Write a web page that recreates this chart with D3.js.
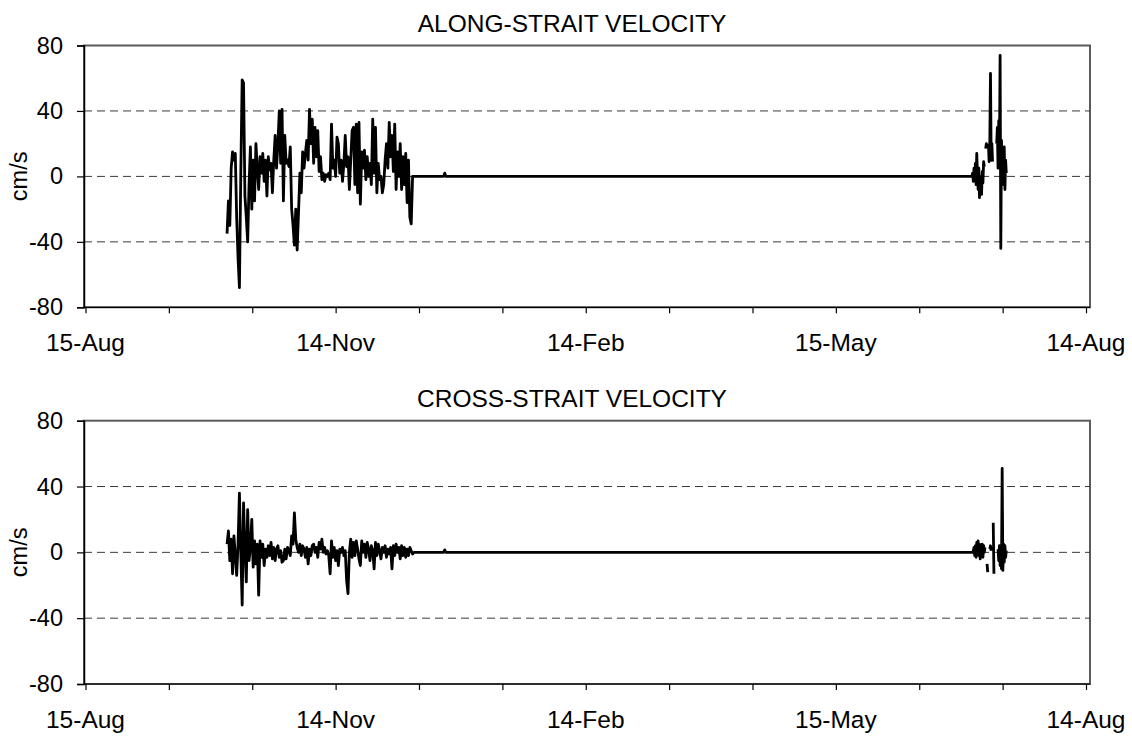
<!DOCTYPE html>
<html><head><meta charset="utf-8">
<script src="https://cdn.jsdelivr.net/npm/d3@7"></script>
<style>
body{margin:0;background:#fff}
svg{display:block}
text{font-family:"Liberation Sans",Arial,sans-serif;fill:#000}
</style>
</head><body>
<svg id="c" width="1132" height="736"></svg>
<script>
// ---------- data (days since 15-Aug) ----------
const xTickDays = [0, 30.33, 60.67, 91, 121.33, 151.67, 182, 212.33, 242.67, 273, 303.33, 333.67, 364];
const xLabelDays = [0, 91, 182, 273, 364];
const xLabels = ["15-Aug", "14-Nov", "14-Feb", "15-May", "14-Aug"];
const yTicks = [80, 40, 0, -40, -80];
const gridValues = [40, 0, -40];
const titles = ["ALONG-STRAIT VELOCITY", "CROSS-STRAIT VELOCITY"];

const fallStart = 51.5, fallStep = 0.5;
const alongFall = [
 -35,-15,-30,5,15,10,14,-25,-50,-68,2,59,57,-12,-25,-40,-5,18,-20,10,
 -15,20,5,-8,12,2,14,-3,10,-12,12,4,8,-10,10,25,5,20,40,8,
 41,-15,25,8,10,6,18,-20,-30,-42,-20,-45,-22,2,-10,15,5,14,22,10,
 41,20,35,8,30,12,28,3,12,-2,2,-3,1,0,2,-2,32,5,10,0,
 24,20,2,10,-3,8,25,6,12,-8,10,28,30,-5,32,-10,33,-17,15,5,
 16,-2,12,0,8,-5,35,2,30,-10,8,-2,0,-10,-5,10,20,5,33,12,
 25,3,32,-8,15,0,20,-8,12,-5,14,-16,10,-25,-29,0
];
const crossFall = [
 5,13,-5,8,-13,10,-2,-14,5,36,0,-32,30,2,-18,26,-5,3,20,-9,
 7,-7,5,-26,7,-3,5,-8,2,-3,4,-2,6,-4,3,-5,2,4,-3,1,
 -6,-5,2,-4,3,1,-2,10,5,24,8,3,0,5,-2,4,2,-3,3,-7,
 2,-2,4,5,0,3,-3,6,2,8,0,3,-1,1,-2,-13,7,-3,3,-5,
 1,-8,2,0,3,-2,1,-17,-25,0,8,-3,6,-2,7,2,-4,-8,7,0,
 5,-3,6,2,-5,4,1,-10,6,-2,5,1,-4,3,0,4,-3,2,-1,3,
 -10,4,-2,5,0,3,-4,4,-2,3,-3,2,-2,3,1,-1,0
];

const quietDays = [119.5, 130.3, 130.7, 131.1, 322.5];
const alongQuiet = [0, 0, 2, 0, 0];
const crossQuiet = [0, 0, 1.5, 0, 0];

const summerStart = 322.5, summerStep = 0.25;
const alongSummer = [
 0,2,-3,5,-2,8,-5,14,2,-8,5,-13,0,-6,-11,3,-4,9,6,null,
 17,20,18,null,20,9,21,63,10,20,9,null,null,null,null,null,
 20,30,5,34,10,74,-44,22,5,15,-5,18,-8,10,2
];
const crossSummer = [
 0,0,1,3,-2,4,-3,6,2,7,-2,5,-4,3,0,5,-3,4,0,3,
 null,null,-7,-12,null,null,2,4,1,null,null,18,-13,null,null,null,null,null,
 2,-5,4,-8,3,-10,51,-11,5,-6,4,-3,1
];

// ---------- layout ----------
const plotLeft = 84, plotRight = 1090;
const panels = [
  {top: 45.5, bottom: 307.3, title: titles[0], fall: alongFall, quiet: alongQuiet, summer: alongSummer},
  {top: 420.7, bottom: 684, title: titles[1], fall: crossFall, quiet: crossQuiet, summer: crossSummer}
];

const svg = d3.select("#c");
const x = d3.scaleLinear().domain([0, 364]).range([85.5, 1086]);

function buildSeries(p) {
  const s = [];
  p.fall.forEach((v, i) => s.push({d: fallStart + i * fallStep, v}));
  quietDays.forEach((d, i) => s.push({d, v: p.quiet[i]}));
  p.summer.forEach((v, i) => s.push({d: summerStart + i * summerStep, v}));
  return s;
}

panels.forEach(p => {
  const g = svg.append("g");
  const y = d3.scaleLinear().domain([-80, 80]).range([p.bottom, p.top]);

  // plot frame
  g.append("rect")
    .attr("x", plotLeft).attr("y", p.top)
    .attr("width", plotRight - plotLeft).attr("height", p.bottom - p.top)
    .attr("fill", "none").attr("stroke", "#5a5a5a").attr("stroke-width", 2);

  // gridlines
  g.selectAll(".grid").data(gridValues).join("line")
    .attr("x1", plotLeft).attr("x2", plotRight)
    .attr("y1", d => y(d)).attr("y2", d => y(d))
    .attr("stroke", "#3a3a3a").attr("stroke-width", 1)
    .attr("stroke-dasharray", "8,5");

  // y axis
  const ya = g.append("g").attr("transform", `translate(${plotLeft},0)`)
    .call(d3.axisLeft(y).tickValues(yTicks).tickSize(7).tickPadding(14).tickFormat(d => String(d)));
  ya.select(".domain").attr("stroke", "#000").attr("stroke-width", 1.5);
  ya.selectAll(".tick line").attr("stroke", "#000").attr("stroke-width", 1.2);
  ya.selectAll("text").style("font-size", "23.5px").attr("fill", "#000")
    .style("font-family", '"Liberation Sans",Arial,sans-serif');

  // x axis ticks
  const xa = g.append("g").attr("transform", `translate(0,${p.bottom})`)
    .call(d3.axisBottom(x).tickValues(xTickDays).tickSize(6).tickSizeOuter(0).tickFormat(""));
  xa.select(".domain").attr("d", `M${plotLeft},0H${plotRight}`).attr("stroke", "#000").attr("stroke-width", 1.2);
  xa.selectAll(".tick line").attr("stroke", "#000").attr("stroke-width", 1.2);

  // x labels
  g.selectAll(".xl").data(xLabelDays).join("text")
    .attr("x", d => x(d)).attr("y", p.bottom + 44)
    .attr("text-anchor", "middle").style("font-size", "24.5px")
    .text((d, i) => xLabels[i]);

  // title
  g.append("text").attr("x", 572).attr("y", p.top - 14)
    .attr("text-anchor", "middle").style("font-size", "24.5px")
    .text(p.title);

  // y title
  const yc = (p.top + p.bottom) / 2;
  g.append("text").attr("transform", `translate(27,${yc}) rotate(-90)`)
    .attr("text-anchor", "middle").style("font-size", "23.5px").text("cm/s");

  // data line
  const series = buildSeries(p);
  const line = d3.line().defined(d => d.v !== null).x(d => x(d.d)).y(d => y(d.v));
  g.append("path").datum(series)
    .attr("d", line).attr("fill", "none")
    .attr("stroke", "#000").attr("stroke-width", 2.8).attr("stroke-linejoin", "round");
});
</script>
</body></html>
